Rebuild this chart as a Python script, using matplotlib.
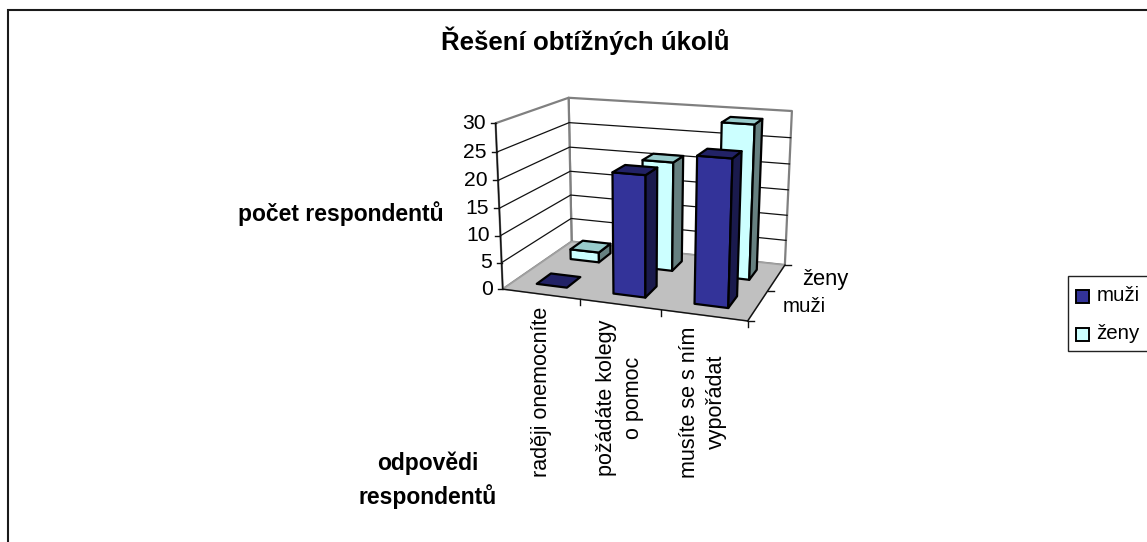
import numpy as np
import matplotlib
matplotlib.use("Agg")
import matplotlib.pyplot as plt
from matplotlib.patches import Polygon, Rectangle

plt.rcParams['font.family'] = ['Liberation Sans', 'DejaVu Sans']

# -----------------------------------------------------------------------------------------
# Data
title = 'Řešení obtížných úkolů'
categories = ['raději onemocníte', 'požádáte kolegy\no pomoc', 'musíte se s ním\nvypořádat']
series_names = ['muži', 'ženy']
muzi = [0, 22, 26]
zeny = [2, 21, 29]
z_ticks = [0, 5, 10, 15, 20, 25, 30]

Z_MAX = 30.0
NAVY = ('#333399', '#222266', '#1a1a4d')
CYAN = ('#ccffff', '#99cccc', '#668080')


# -----------------------------------------------------------------------------------------
# Perspective camera fitted on the corners of the plot box (unit box -> image pixels)
def fit_camera():
    box = [(0, 0, 0), (1, 0, 0), (1, 1, 0), (0, 1, 0), (0, 0, 1), (0, 1, 1), (1, 1, 1)]
    pix = [(503.3, 289), (747.7, 321), (785, 265), (571, 241.7),
           (495, 123.3), (569.3, 97.7), (791.7, 111)]
    rows = []
    for (x, y, z), (u, v) in zip(box, pix):
        rows.append([x, y, z, 1, 0, 0, 0, 0, -u * x, -u * y, -u * z, -u])
        rows.append([0, 0, 0, 0, x, y, z, 1, -v * x, -v * y, -v * z, -v])
    return np.linalg.svd(np.array(rows))[2][-1].reshape(3, 4)


CAM = fit_camera()


def proj(cat, depth, val):
    # cat 0..3, depth 0..1, val in chart units
    p = CAM @ np.array([cat / 3.0, depth, val / Z_MAX, 1.0])
    return p[0] / p[2], p[1] / p[2]


def face(ax, pts, color, lw=1.6, edge='black', z=2):
    ax.add_patch(Polygon([proj(*p) for p in pts], closed=True, facecolor=color,
                         edgecolor=edge, linewidth=lw, joinstyle='round', zorder=z))


def bar(ax, i, row, val, cols):
    x0, x1 = i + 0.3, i + 0.7
    y0, y1 = row * 0.5 + 0.15, row * 0.5 + 0.35
    z = 3 + row * -1 + i * 0.1
    if val > 0:
        face(ax, [(x0, y0, 0), (x1, y0, 0), (x1, y0, val), (x0, y0, val)], cols[0], z=z)
        face(ax, [(x1, y0, 0), (x1, y1, 0), (x1, y1, val), (x1, y0, val)], cols[2], z=z)
    face(ax, [(x0, y0, val), (x1, y0, val), (x1, y1, val), (x0, y1, val)], cols[1], z=z)


fig = plt.figure(figsize=(11.47, 5.42), dpi=100)
ax = fig.add_axes([0, 0, 1, 1])
ax.set_xlim(0, 1147)
ax.set_ylim(542, 0)
ax.axis('off')

# outer frame, only the top and left edges are in the crop
ax.plot([1147, 7.8, 7.8], [9.5, 9.5, 542], color='#1a1a1a', lw=1.5, solid_joinstyle='miter')

ax.text(585, 41, title, fontsize=18.6, fontweight='bold', ha='center', va='center')

# walls and floor
face(ax, [(0, 1, 0), (3, 1, 0), (3, 1, 30), (0, 1, 30)], 'white', lw=1.6, edge='#808080', z=1)
face(ax, [(0, 0, 0), (0, 1, 0), (0, 1, 30), (0, 0, 30)], 'white', lw=1.6, edge='#808080', z=1)
face(ax, [(0, 0, 0), (3, 0, 0), (3, 1, 0), (0, 1, 0)], '#c0c0c0', lw=1.2, edge='#a0a0a0', z=1.1)

for t in z_ticks[1:-1]:
    pts = [proj(0, 0, t), proj(0, 1, t), proj(3, 1, t)]
    ax.plot([p[0] for p in pts], [p[1] for p in pts], color='#111111', lw=0.9, zorder=1.2)

# axis lines and ticks
for a, b in [((0, 0, 0), (0, 0, 30)), ((0, 0, 0), (3, 0, 0)), ((3, 0, 0), (3, 1, 0))]:
    pa, pb = proj(*a), proj(*b)
    ax.plot([pa[0], pb[0]], [pa[1], pb[1]], color='#111111', lw=1.0, zorder=1.3)

for t in z_ticks:
    u, v = proj(0, 0, t)
    ax.plot([u - 5, u], [v, v], color='#111111', lw=1.0, zorder=1.3)
    ax.text(u - 10, v, str(t), fontsize=15.2, ha='right', va='center')

for c in range(1, 4):
    u, v = proj(c, 0, 0)
    ax.plot([u, u], [v, v + 6], color='#111111', lw=1.0, zorder=1.3)

for d in [0, 0.5, 1]:
    u, v = proj(3, d, 0)
    ax.plot([u, u + 6], [v, v], color='#111111', lw=1.0, zorder=1.3)

# bars, back row first
for i, val in enumerate(zeny):
    bar(ax, i, 1, val, CYAN)
for i, val in enumerate(muzi):
    bar(ax, i, 0, val, NAVY)

# depth labels
ax.text(825, 280, series_names[1], fontsize=15.8, ha='center', va='center')
ax.text(804, 307, series_names[0], fontsize=14.8, ha='center', va='center')

# category labels
cat_x = [542, 620, 703]
cat_y = [392, 397.5, 402]
for name, u, v in zip(categories, cat_x, cat_y):
    ax.text(u, v, name, fontsize=15.5, rotation=90, ha='center', va='center',
            multialignment='center', linespacing=1.35)

# axis titles
ax.text(341, 214, 'počet respondentů', fontsize=16.5, fontweight='bold', ha='center', va='center')
ax.text(428, 480, 'odpovědi\nrespondentů', fontsize=16.5, fontweight='bold', ha='center', va='center',
        multialignment='center', linespacing=1.45)

# legend, runs out of the crop on the right
ax.add_patch(Rectangle((1067.8, 275.8), 100, 75.2, facecolor='white', edgecolor='#222222', lw=1.0, zorder=4))
leg_cols = [NAVY[0], CYAN[0]]
for name, col, yc in zip(series_names, leg_cols, [296, 334]):
    ax.add_patch(Rectangle((1075.5, yc - 6.5), 13, 13, facecolor=col, edgecolor='black', lw=1.4, zorder=5))
    ax.text(1096.5, yc - 0.5, name, fontsize=14.8, ha='left', va='center', zorder=5)

fig.savefig('out.png', dpi=100)
